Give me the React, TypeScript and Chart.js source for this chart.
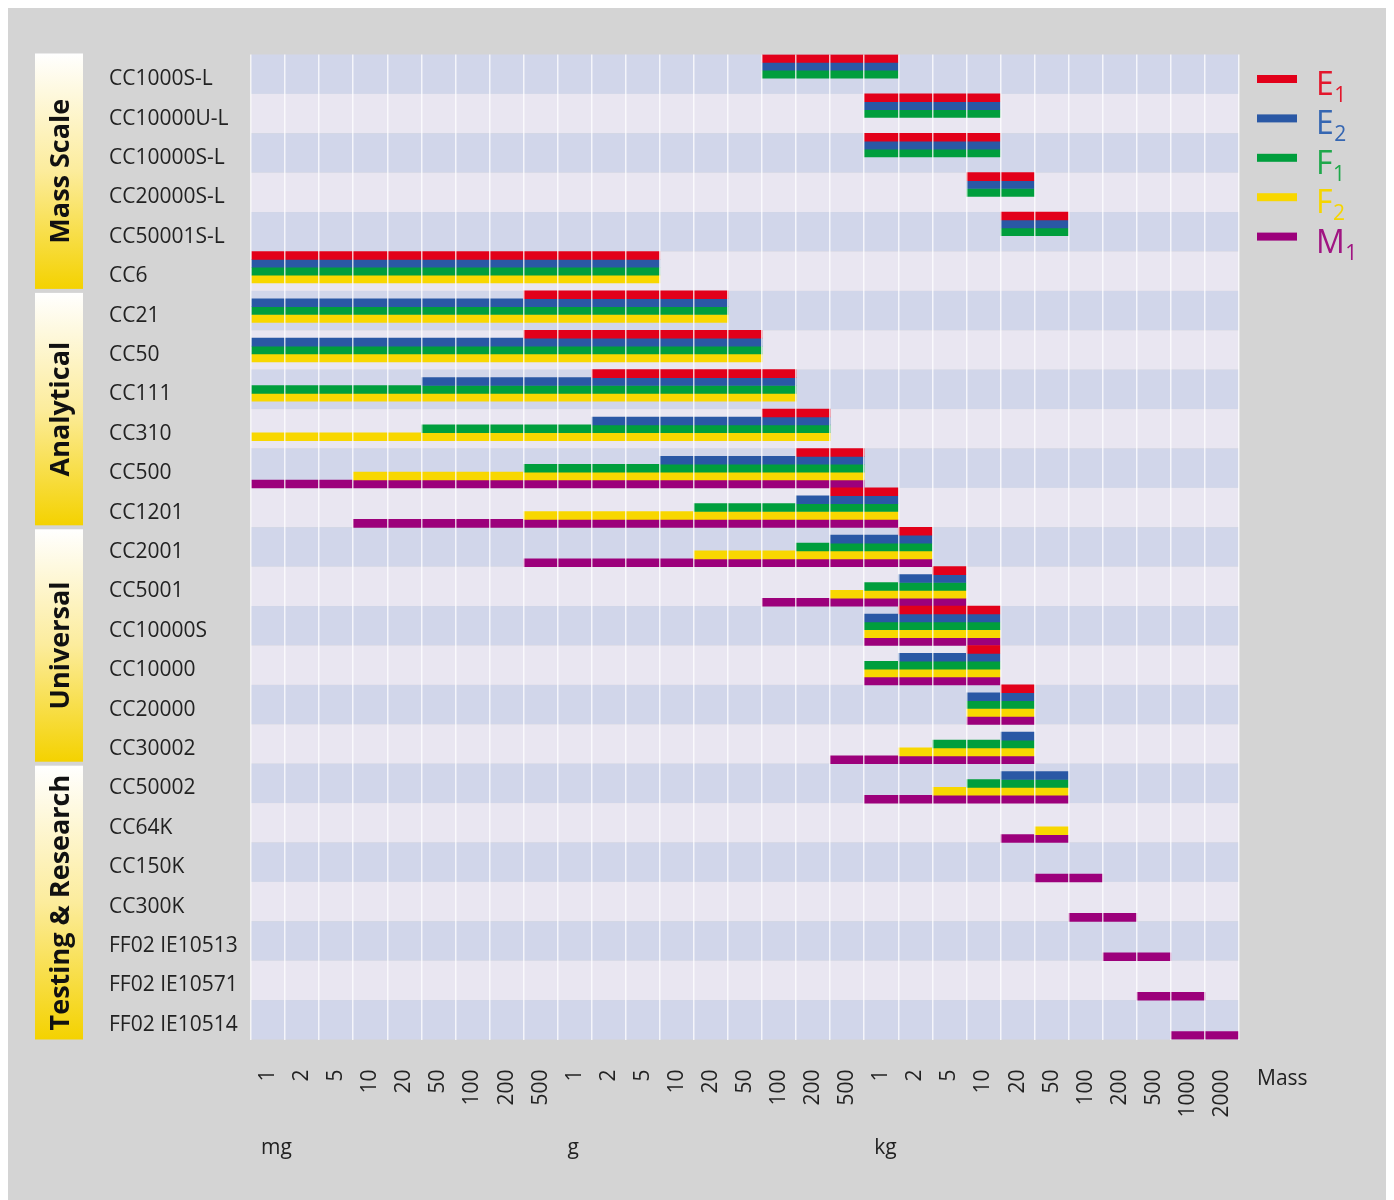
import React, { useEffect, useRef } from "react";
import { Chart, registerables } from "chart.js";

Chart.register(...registerables);

const FONT = "'Open Sans', 'Noto Sans', sans-serif";

// ---- categories (balances, top to bottom) ----
const balances = [
  "CC1000S-L", "CC10000U-L", "CC10000S-L", "CC20000S-L", "CC50001S-L",
  "CC6", "CC21", "CC50", "CC111", "CC310", "CC500", "CC1201",
  "CC2001", "CC5001", "CC10000S", "CC10000", "CC20000", "CC30002",
  "CC50002", "CC64K", "CC150K", "CC300K", "FF02 IE10513", "FF02 IE10571", "FF02 IE10514",
];

// ---- mass columns (tick labels) ----
const massTicks = [
  "1", "2", "5", "10", "20", "50", "100", "200", "500",
  "1", "2", "5", "10", "20", "50", "100", "200", "500",
  "1", "2", "5", "10", "20", "50", "100", "200", "500", "1000", "2000",
];
const unitNames = ["mg", "g", "kg"];
const unitFirstColumn = [0, 9, 18];

// ---- groups ----
const groupNames = ["Mass Scale", "Analytical", "Universal", "Testing & Research"];
const groupSizes = [6, 6, 6, 7];

// ---- series: ranges [fromColumn, toColumn) on the mass column scale ----
const classE1 = [
  [15, 19], [18, 22], [18, 22], [21, 23], [22, 24],
  [0, 12], [8, 14], [8, 15], [10, 16], [15, 17], [16, 18], [17, 19],
  [19, 20], [20, 21], [19, 22], [21, 22], [22, 23], null,
  null, null, null, null, null, null, null,
];
const classE2 = [
  [15, 19], [18, 22], [18, 22], [21, 23], [22, 24],
  [0, 12], [0, 14], [0, 15], [5, 16], [10, 17], [12, 18], [16, 19],
  [17, 20], [19, 21], [18, 22], [19, 22], [21, 23], [22, 23],
  [22, 24], null, null, null, null, null, null,
];
const classF1 = [
  [15, 19], [18, 22], [18, 22], [21, 23], [22, 24],
  [0, 12], [0, 14], [0, 15], [0, 16], [5, 17], [8, 18], [13, 19],
  [16, 20], [18, 21], [18, 22], [18, 22], [21, 23], [20, 23],
  [21, 24], null, null, null, null, null, null,
];
const classF2 = [
  null, null, null, null, null,
  [0, 12], [0, 14], [0, 15], [0, 16], [0, 17], [3, 18], [8, 19],
  [13, 20], [17, 21], [18, 22], [18, 22], [21, 23], [19, 23],
  [20, 24], [23, 24], null, null, null, null, null,
];
const classM1 = [
  null, null, null, null, null,
  null, null, null, null, null, [0, 18], [3, 19],
  [8, 20], [15, 21], [18, 22], [18, 22], [21, 23], [17, 23],
  [18, 24], [22, 24], [23, 25], [24, 26], [25, 27], [26, 28], [27, 29],
];

const classLetters = ["E", "E", "F", "F", "M"];
const classIndices = ["1", "2", "1", "2", "1"];

// ---- styles ----
const BAR_COLORS = ["#e2001a", "#2a58a5", "#009e3d", "#f8d700", "#9c007b"];
const LEGEND_TEXT = ["#e3172c", "#3566b2", "#1fa84b", "#f5d500", "#a01582"];
const ROW_BLUE = "#d1d6ea";
const ROW_LIGHT = "#e9e6f1";
const GRID = "rgba(255,255,255,0.75)";
const TEXT = "#222222";
const PAGE_BG = "#d4d4d4";

const rowBandsPlugin = {
  id: "rowBands",
  beforeDatasetsDraw(chart: any) {
    const { ctx, chartArea: a, scales } = chart;
    const y = scales.y;
    const h = y.getPixelForValue(1) - y.getPixelForValue(0);
    ctx.save();
    balances.forEach((_, i) => {
      const c = y.getPixelForValue(i);
      ctx.fillStyle = i % 2 === 0 ? ROW_BLUE : ROW_LIGHT;
      ctx.fillRect(a.left, c - h / 2, a.right - a.left, h);
    });
    ctx.restore();
  },
};

const decorPlugin = {
  id: "decor",
  afterDraw(chart: any) {
    const { ctx, chartArea: a, scales } = chart;
    const y = scales.y;
    const x = scales.x;
    const h = y.getPixelForValue(1) - y.getPixelForValue(0);
    ctx.save();

    // group boxes
    let start = 0;
    groupNames.forEach((name, gi) => {
      const n = groupSizes[gi];
      const top = y.getPixelForValue(start) - h / 2;
      const bottom = y.getPixelForValue(start + n - 1) + h / 2;
      const bt = top + (gi === 0 ? -1 : 2);
      const bb = bottom - (gi === groupNames.length - 1 ? 0 : 2);
      const grad = ctx.createLinearGradient(0, bt, 0, bb);
      grad.addColorStop(0, "#ffffff");
      grad.addColorStop(0.5, "#fcec9c");
      grad.addColorStop(1, "#f4d200");
      ctx.fillStyle = grad;
      ctx.fillRect(27, bt, 48, bb - bt);
      ctx.save();
      ctx.translate(61, (bt + bb) / 2);
      ctx.rotate(-Math.PI / 2);
      ctx.fillStyle = "#111111";
      ctx.font = `bold 27px ${FONT}`;
      ctx.textAlign = "center";
      ctx.textBaseline = "alphabetic";
      ctx.fillText(name, 0, 0);
      ctx.restore();
      start += n;
    });

    // legend
    ctx.textAlign = "left";
    ctx.textBaseline = "alphabetic";
    classLetters.forEach((L, i) => {
      const cy = a.top + 24.5 + i * h;
      ctx.fillStyle = BAR_COLORS[i];
      ctx.fillRect(a.right + 18, cy - 4, 40, 8);
      ctx.fillStyle = LEGEND_TEXT[i];
      ctx.font = `32px ${FONT}`;
      const tx = a.right + 77;
      ctx.fillText(L, tx, cy + 16);
      const w = ctx.measureText(L).width;
      ctx.font = `21px ${FONT}`;
      ctx.fillText(classIndices[i], tx + w + 0.5, cy + 23);
    });

    // unit labels
    ctx.fillStyle = TEXT;
    ctx.font = `21px ${FONT}`;
    unitNames.forEach((u, i) => {
      ctx.fillText(u, x.getPixelForValue(unitFirstColumn[i]) + 10, a.bottom + 114);
    });
    ctx.fillText("Mass", a.right + 18, a.bottom + 45);

    ctx.restore();
  },
};

export default function App() {
  const ref = useRef<HTMLCanvasElement>(null);

  useEffect(() => {
    const series = [classE1, classE2, classF1, classF2, classM1];
    const chart = new Chart(ref.current as HTMLCanvasElement, {
      type: "bar",
      data: {
        labels: balances,
        datasets: series.map((d, i) => ({
          label: classLetters[i] + classIndices[i],
          data: d as any,
          backgroundColor: BAR_COLORS[i],
          borderWidth: 0,
          barPercentage: 1,
          categoryPercentage: 1,
        })),
      },
      options: {
        animation: false,
        responsive: true,
        maintainAspectRatio: false,
        indexAxis: "y",
        layout: { padding: { left: 101, right: 147, top: 46.5, bottom: 10.5 } },
        plugins: { legend: { display: false }, tooltip: { enabled: false } },
        scales: {
          x: {
            type: "linear",
            min: 0,
            max: massTicks.length,
            afterBuildTicks: (s: any) => {
              const t = [];
              for (let i = 0; i <= massTicks.length * 2; i++) t.push({ value: i / 2 });
              s.ticks = t;
            },
            afterFit: (s: any) => {
              s.height = 150;
            },
            grid: {
              z: 1,
              drawTicks: false,
              lineWidth: 1.5,
              color: (c: any) =>
                c.tick && Number.isInteger(c.tick.value) ? GRID : "rgba(0,0,0,0)",
            },
            border: { display: false },
            ticks: {
              autoSkip: false,
              minRotation: 90,
              maxRotation: 90,
              padding: 30,
              color: TEXT,
              font: { size: 21, family: FONT },
              callback: (v: any) =>
                Number.isInteger(v) ? "" : massTicks[Math.floor(v)],
            },
          },
          y: {
            type: "category",
            afterFit: (s: any) => {
              s.width = 142;
            },
            grid: { display: false },
            border: { display: false },
            ticks: {
              crossAlign: "far",
              labelOffset: 5,
              color: TEXT,
              font: { size: 21, family: FONT },
            },
          },
        },
      },
      plugins: [rowBandsPlugin, decorPlugin],
    } as any);
    return () => chart.destroy();
  }, []);

  return (
    <div style={{ background: PAGE_BG, height: 1192, position: "relative" }}>
      <canvas ref={ref} />
    </div>
  );
}
